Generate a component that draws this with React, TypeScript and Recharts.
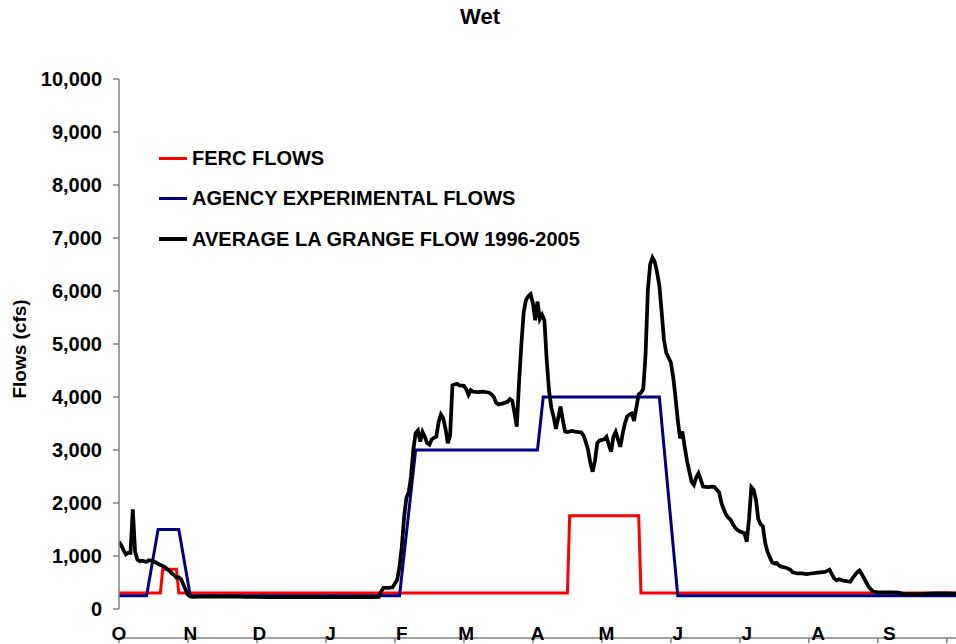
import React from 'react';
import { LineChart, Line, XAxis, YAxis, Legend } from 'recharts';

const FONT = '"Liberation Sans", Arial, Helvetica, sans-serif';

// Water-year day index (0 = Oct 1)
const monthLabels = ['O', 'N', 'D', 'J', 'F', 'M', 'A', 'M', 'J', 'J', 'A', 'S'];
const monthStartDays = [0, 31, 61, 92, 123, 151, 182, 212, 243, 273, 304, 335];
const tickDays = [0, 30, 60, 90, 120, 150, 180, 210, 240, 270, 300, 330, 360];
const yTicks = [0, 1000, 2000, 3000, 4000, 5000, 6000, 7000, 8000, 9000, 10000];

const fercDays = [0, 18, 19, 25, 26, 195, 196, 226, 227, 364];
const fercFlows = [300, 300, 750, 750, 300, 300, 1760, 1760, 300, 300];

const agencyDays = [0, 12, 17, 26, 31, 122, 129, 182, 184.5, 235, 243, 364];
const agencyFlows = [250, 250, 1500, 1500, 250, 250, 3000, 3000, 4000, 4000, 250, 250];

const laGrangeDays = [
  0, 1, 2, 3, 4, 5, 6, 7, 8, 9, 10, 11, 12, 13, 14, 15, 16, 17, 18, 19, 20, 21, 22, 23, 24, 25, 26, 27, 28, 29, 30, 31, 32,
  35, 40, 45, 50, 55, 60, 65, 70, 75, 80, 85, 90, 95, 100, 105, 110, 113, 114, 115, 117, 119, 120, 121, 122, 123, 124, 125,
  126, 127, 128, 129, 130, 131, 132, 133, 134, 135, 136, 137, 138, 139, 140, 141, 142, 143, 144, 145, 147, 148, 150, 151,
  152, 153, 154, 156, 158, 160, 161, 162, 163, 164, 165, 167, 169, 170, 171, 172, 173, 174, 175, 176, 177, 178, 179, 180,
  181, 182, 183, 184, 185, 186, 187, 188, 189, 190, 191, 192, 193, 194, 195, 197, 199, 201, 202, 203, 204, 205, 206, 207,
  208, 209, 210, 211, 212, 213, 214, 215, 216, 217, 218, 219, 220, 221, 222, 223, 224, 225, 226, 227, 228, 229, 230, 231,
  232, 233, 234, 235, 236, 237, 238, 239, 240, 241, 242, 243, 244, 245, 246, 247, 248, 249, 250, 251, 252, 253, 254, 256,
  258, 259, 260, 261, 262, 263, 264, 265, 266, 267, 268, 269, 270, 272, 273, 274, 275, 276, 277, 278, 279, 280, 281, 282,
  283, 284, 285, 286, 287, 288, 290, 291, 292, 293, 295, 297, 299, 301, 303, 305, 307, 308, 309, 310, 311, 312, 313, 315,
  317, 318, 319, 320, 321, 322, 323, 324, 325, 326, 327, 328, 330, 333, 336, 339, 341, 345, 350, 355, 360, 364,
];
const laGrangeFlows = [
  1270, 1200, 1110, 1030, 1060, 1060, 1880, 1080, 930, 900, 910, 900, 890, 920, 910, 890, 880, 850, 830, 810, 790, 750, 720, 670, 640, 590, 600, 560, 460, 360, 270, 235, 230,
  235, 238, 232, 236, 230, 228, 225, 222, 228, 224, 230, 226, 222, 225, 230, 226, 230, 330, 400, 400, 410, 480, 550, 800, 1180, 1740, 2100,
  2210, 2500, 3000, 3320, 3370, 3160, 3340, 3250, 3130, 3100, 3200, 3230, 3250, 3530, 3670, 3600, 3400, 3130, 3280, 4220, 4250, 4220, 4210, 4150,
  4040, 4130, 4100, 4090, 4100, 4090, 4080, 4050, 4000, 3890, 3860, 3880, 3910, 3960, 3930, 3700, 3440, 4300, 5000, 5600, 5830, 5900, 5940, 5770,
  5450, 5800, 5470, 5550, 5450, 4700, 4130, 3800, 3630, 3400, 3600, 3820, 3570, 3350, 3340, 3360, 3340, 3330, 3280, 3150, 3000, 2750, 2590, 2800,
  3130, 3180, 3190, 3200, 3250, 3100, 2970, 3250, 3340, 3200, 3060, 3300, 3500, 3630, 3670, 3690, 3550, 3800, 4050, 4080, 4150, 4800, 6020, 6500,
  6630, 6550, 6350, 6100, 5600, 5080, 4830, 4740, 4650, 4380, 4000, 3560, 3220, 3350, 3060, 2800, 2600, 2400, 2340, 2480, 2560, 2440, 2310, 2300,
  2310, 2300, 2250, 2200, 2000, 1880, 1780, 1720, 1680, 1600, 1530, 1490, 1460, 1430, 1270, 1700, 2300, 2250, 2060, 1700, 1600, 1560, 1250, 1080,
  980, 880, 860, 870, 820, 800, 780, 760, 740, 690, 670, 670, 660, 670, 680, 690, 700, 720, 740, 660, 580, 540, 560, 535,
  520, 515, 580, 640, 690, 725, 660, 580, 500, 420, 370, 330, 315, 315, 315, 308, 285, 283, 285, 295, 295, 290,
];

const toPoints = (days: number[], flows: number[]) => days.map((d, i) => ({ d, v: flows[i] }));

const fercData = toPoints(fercDays, fercFlows);
const agencyData = toPoints(agencyDays, agencyFlows);
const laGrangeData = toPoints(laGrangeDays, laGrangeFlows);

const seriesMeta = [
  { name: 'FERC FLOWS', color: '#FF0000', width: 3, data: fercData },
  { name: 'AGENCY EXPERIMENTAL FLOWS', color: '#000080', width: 3, data: agencyData },
  { name: 'AVERAGE LA GRANGE FLOW 1996-2005', color: '#000000', width: 3.75, data: laGrangeData },
];

const fmt = (v: number) => String(v).replace(/\B(?=(\d{3})+(?!\d))/g, ',');

const tickStyle = { fontSize: 20, fontWeight: 'bold', fill: '#000', fontFamily: FONT };

const LegendContent = () => (
  <div style={{ fontFamily: FONT, fontWeight: 'bold', fontSize: 20, color: '#000' }}>
    {seriesMeta.map((s) => (
      <div key={s.name} style={{ display: 'flex', alignItems: 'center', height: 40.5, whiteSpace: 'nowrap' }}>
        <div style={{ width: 28, height: s.width, background: s.color, marginRight: 5 }} />
        <span>{s.name}</span>
      </div>
    ))}
  </div>
);

export default function App() {
  return (
    <div style={{ position: 'absolute', left: 0, top: 0, width: 956, height: 644, background: '#fff' }}>
      <div
        style={{
          position: 'absolute',
          left: 2,
          top: 6,
          width: 956,
          textAlign: 'center',
          fontFamily: FONT,
          fontWeight: 'bold',
          fontSize: 22,
          lineHeight: '22px',
          color: '#000',
        }}
      >
        Wet
      </div>
      <LineChart width={956} height={644} margin={{ top: 79, right: 0, bottom: 0, left: 0 }}>
        <XAxis
          xAxisId="t"
          type="number"
          dataKey="d"
          domain={[0, 364]}
          allowDataOverflow
          ticks={tickDays}
          interval={0}
          tickFormatter={() => ''}
          height={6}
          tickSize={5}
          axisLine={{ stroke: '#808080', strokeWidth: 1.5 }}
          tickLine={{ stroke: '#808080', strokeWidth: 1.5 }}
        />
        <XAxis
          xAxisId="m"
          type="number"
          dataKey="d"
          domain={[0, 364]}
          allowDataOverflow
          ticks={monthStartDays}
          interval={0}
          tickFormatter={(v: number) => monthLabels[monthStartDays.indexOf(v)] ?? ''}
          height={29}
          axisLine={false}
          tickLine={false}
          tickSize={0}
          tickMargin={18}
          tick={{ ...tickStyle, fontSize: 19 }}
        />
        <YAxis
          type="number"
          domain={[0, 10000]}
          allowDataOverflow
          ticks={yTicks}
          interval={0}
          width={119}
          tickSize={6}
          tickMargin={11}
          tickFormatter={fmt}
          axisLine={{ stroke: '#808080', strokeWidth: 1.5 }}
          tickLine={{ stroke: '#808080', strokeWidth: 1.5 }}
          tick={tickStyle}
          label={{
            value: 'Flows (cfs)',
            angle: -90,
            position: 'insideLeft',
            offset: 19,
            dy: 5,
            style: { textAnchor: 'middle', fontSize: 19, fontWeight: 'bold', fill: '#000', fontFamily: FONT },
          }}
        />
        <Legend
          layout="vertical"
          align="center"
          verticalAlign="middle"
          content={<LegendContent />}
          wrapperStyle={{ position: 'absolute', left: 159, top: 138, width: 'auto', bottom: 'auto' }}
        />
        {seriesMeta.map((s) => (
          <Line
            key={s.name}
            xAxisId="t"
            data={s.data}
            dataKey="v"
            name={s.name}
            type="linear"
            stroke={s.color}
            strokeWidth={s.width}
            dot={false}
            activeDot={false}
            isAnimationActive={false}
          />
        ))}
      </LineChart>
    </div>
  );
}
